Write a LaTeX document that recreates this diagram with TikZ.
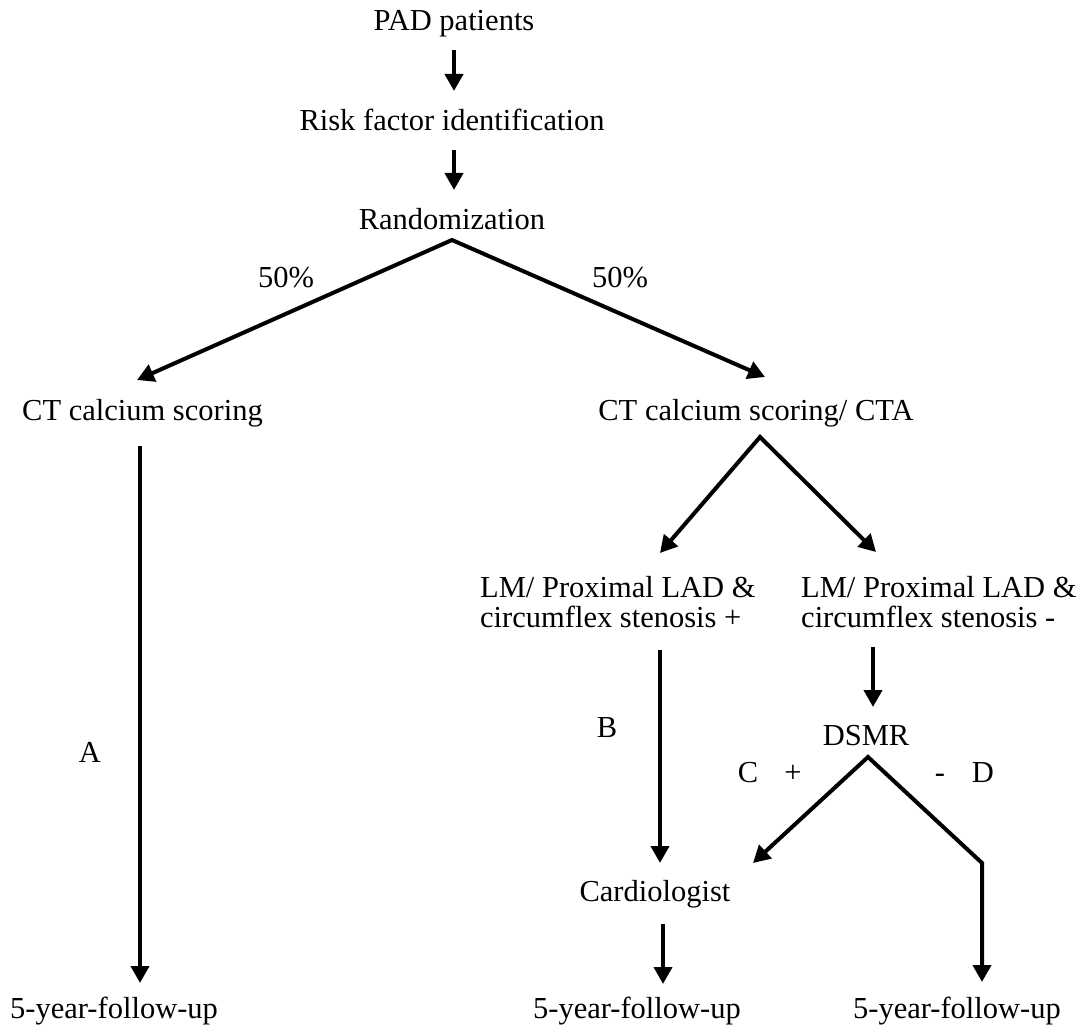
\documentclass[tikz,border=0pt]{standalone}
\usepackage{fontspec}
\setmainfont{Liberation Serif}
\usetikzlibrary{positioning, arrows.meta}

\begin{document}
\begin{tikzpicture}[x=1pt, y=-1pt,
        >={Triangle[length=17pt, width=18pt]},
        lbl/.style={inner sep=0pt, anchor=base, font=\fontsize{30.5}{30}\selectfont},
        flow/.style={line width=4pt, ->},
        fork/.style={line width=4pt, <->}]
        \useasboundingbox (0,0) rectangle (1082,1032);

        % --- Top: patients to randomization ---
        \node[lbl] (pad) at (454,31) {PAD patients};
        \node[lbl] (risk) at (452,131) {Risk factor identification};
        \node[lbl] (rand) at (452,230) {Randomization};
        \coordinate (pad-out) at (454,50);  \coordinate (risk-in) at (454,91);
        \coordinate (risk-out) at (454,150); \coordinate (rand-in) at (454,190);
        \draw[flow] (pad-out) -- (risk-in);
        \draw[flow] (risk-out) -- (rand-in);

        % Split 50% / 50%
        \coordinate (rand-split) at (452,240);
        \coordinate (cacs-in) at (137,380);
        \coordinate (cta-in) at (765,377);
        \draw[fork] (cacs-in) -- (rand-split) -- (cta-in);
        \node[lbl] (pct-l) at (286,288) {50\%};
        \node[lbl] (pct-r) at (620,288) {50\%};

        % --- Left arm: calcium scoring only ---
        \node[lbl, anchor=base west] (cacs) at (22,420) {CT calcium scoring};
        \node[lbl] (arm-a) at (90,762) {A};
        \node[lbl, anchor=base west] (fu-a) at (10,1018) {5-year-follow-up};
        \coordinate (cacs-out) at (140,446); \coordinate (fu-a-in) at (140,983);
        \draw[flow] (cacs-out) -- (fu-a-in);

        % --- Right arm: calcium scoring + CTA ---
        \node[lbl] (cta) at (756,420) {CT calcium scoring/ CTA};
        \coordinate (cta-split) at (760,437);
        \coordinate (pos-in) at (660,553);
        \coordinate (neg-in) at (876,552);
        \draw[fork] (pos-in) -- (cta-split) -- (neg-in);

        % two-line labels: base is the last line
        \node[lbl, anchor=base west, align=left] (lm-pos) at (480,627)
            {LM/ Proximal LAD \&\\circumflex stenosis +};
        \node[lbl, anchor=base west, align=left] (lm-neg) at (801,627)
            {LM/ Proximal LAD \&\\circumflex stenosis -};

        % Stenosis + goes straight to cardiologist
        \node[lbl] (arm-b) at (607,737) {B};
        \node[lbl] (card) at (655,901) {Cardiologist};
        \coordinate (pos-out) at (660,650); \coordinate (card-in) at (660,863);
        \draw[flow] (pos-out) -- (card-in);

        % Stenosis - goes to DSMR
        \node[lbl] (dsmr) at (866,745) {DSMR};
        \coordinate (neg-out) at (873,647); \coordinate (dsmr-in) at (873,707);
        \draw[flow] (neg-out) -- (dsmr-in);

        \coordinate (dsmr-split) at (868,757);
        \coordinate (card-in2) at (753,863);
        \coordinate (d-bend) at (982,863);
        \coordinate (fu-d-in) at (982,982);
        \draw[fork] (card-in2) -- (dsmr-split) -- (d-bend) -- (fu-d-in);
        \node[lbl] (arm-c) at (748,782) {C};
        \node[lbl] (plus) at (793,782) {+};
        \node[lbl] (minus) at (940,782) {-};
        \node[lbl] (arm-d) at (983,782) {D};

        % --- Follow-up ---
        \node[lbl] (fu-bc) at (637,1018) {5-year-follow-up};
        \node[lbl] (fu-d) at (957,1018) {5-year-follow-up};
        \coordinate (card-out) at (663,924); \coordinate (fu-bc-in) at (663,984);
        \draw[flow] (card-out) -- (fu-bc-in);
\end{tikzpicture}
\end{document}
